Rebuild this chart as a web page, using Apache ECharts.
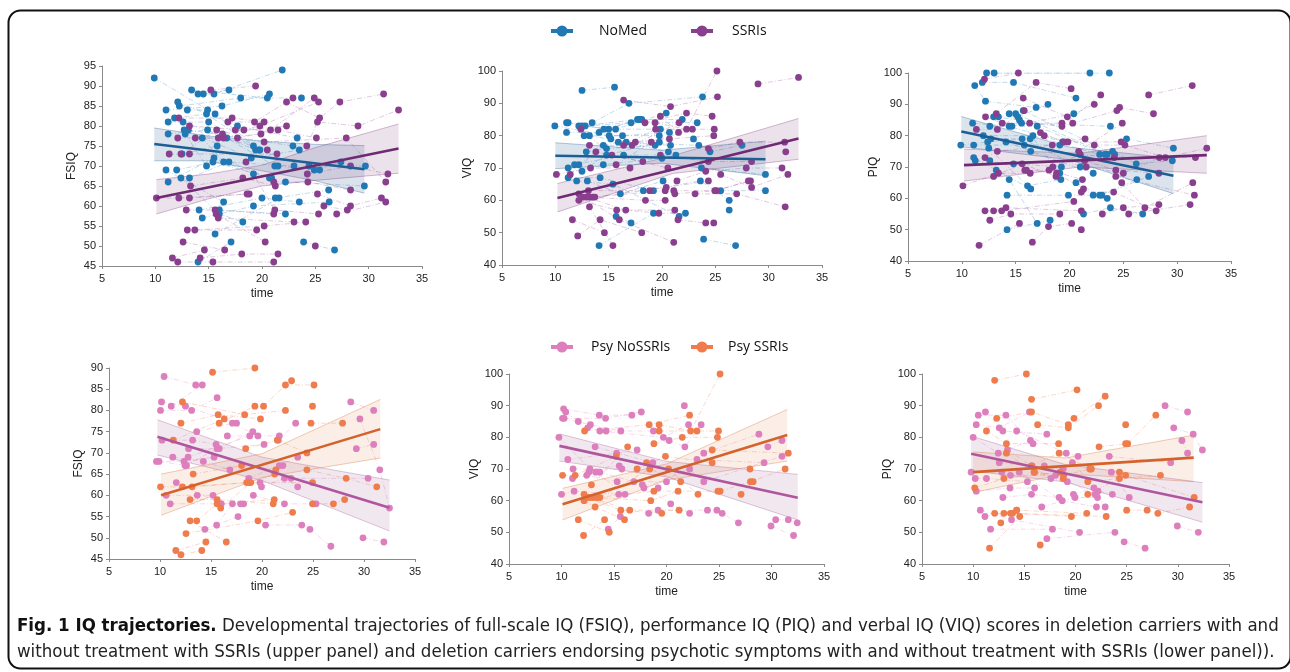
<!DOCTYPE html>
<html><head><meta charset="utf-8">
<script src="https://cdn.jsdelivr.net/npm/echarts@6/dist/echarts.min.js"></script>
<style>html,body{margin:0;padding:0;background:#fff}#c{width:1290px;height:672px}</style>
</head><body><div id="c"></div>
<script>
// ---------- tick labels / axes ----------
const timeTicks = [5, 10, 15, 20, 25, 30, 35];
const legendTop = ['NoMed', 'SSRIs'];
const legendBottom = ['Psy NoSSRIs', 'Psy SSRIs'];
const yNames = ['FSIQ', 'VIQ', 'PIQ', 'FSIQ', 'VIQ', 'PIQ'];
const yRanges = [[45, 95, 5], [40, 100, 10], [40, 100, 10], [45, 90, 5], [40, 100, 10], [40, 100, 10]];

// ---------- trajectories (each subject: [time, score] visits) ----------
const fsiqNoMed = [
[[9.9,92],[15.6,83],[19.8,74]],[[11.0,84],[16.25,85],[20.7,88]],[[11.2,81],[15.0,81],[19.7,74]],[[11.2,78],[14.9,79],[19.4,74]],
[[11.0,69],[16.4,61]],[[11.2,66],[15.5,72],[19.2,68]],[[12.0,69],[15.4,71],[20.9,67]],[[12.1,86],[17.7,80],[23.3,77]],
[[12.25,85],[18.0,87],[23.7,87]],[[11.8,82],[14.8,83],[19.2,75]],[[12.6,81],[16.7,77],[21.2,70]],[[12.7,79],[19.0,72],[23.5,74]],
[[13.0,84],[14.9,84]],[[12.8,78],[14.8,70]],[[13.1,79],[22.9,75]],[[12.5,73],[15.8,75]],[[12.4,67],[16.0,58],[18.2,56]],
[[13.2,67],[16.9,71],[20.7,67]],[[13.4,89],[20.5,87]],[[14.0,88],[15.5,88],[21.9,94]],[[14.5,88],[16.9,89]],
[[14.4,77],[16.4,71],[23.0,70]],[[14.1,59],[20.0,62],[23.5,61]],[[14.4,57],[19.2,60],[26.3,61]],[[14.0,46],[17.1,51]],
[[15.6,53],[21.6,62]],[[21.25,62],[26.25,64]],[[22.2,66],[29.6,65]],[[16.0,59],[22.2,58]],[[23.9,51],[26.8,49]],
[[24.4,70],[29.7,70]],[[24.9,69],[27.4,71]],[[21.5,70],[25.4,69]]
];
const fsiqSSRIs = [
[[10.1,62],[13.2,62],[18.8,63]],[[11.6,47],[14.6,49]],[[12.1,46],[15.4,46],[21.1,46]],[[12.1,77],[16.4,77],[20.5,74]],
[[12.2,82],[17.2,82],[20.2,81]],[[11.3,73],[13.2,73],[21.4,73]],[[12.2,62],[18.6,63]],[[12.4,73],[15.75,79]],[[12.6,51],[16.5,49]],
[[13.0,54],[19.5,54]],[[12.9,59],[15.6,59],[21.1,58]],[[13.2,80],[18.3,79],[22.3,80]],[[13.3,65],[18.2,67],[21.25,65]],
[[13.7,54],[20.2,55],[24.1,56]],[[13.75,77],[15.9,77],[19.9,78]],[[14.2,47],[18.1,48],[21.5,48]],[[15.2,89],[19.4,90]],
[[15.7,58],[20.3,51]],[[15.9,57],[23.0,56]],[[16.3,78],[19.8,80],[25.3,86]],[[16.8,81],[19.3,81],[22.9,87]],
[[17.5,79],[20.8,79],[24.9,87]],[[17.7,77],[21.5,79],[25.1,77]],[[18.5,71],[21.2,59],[25.3,58]],[[21.1,66],[24.3,66],[28.3,64]],
[[22.3,86],[25.4,82],[27.3,86],[31.4,88]],[[24.2,75],[25.2,81],[29.0,80],[32.8,84]],[[24.25,68],[28.3,70],[31.8,68]],
[[25.2,63],[28.3,60],[31.2,62]],[[25.0,50]],[[27.0,58],[31.6,61]],[[25.8,60],[28.0,59]],[[20.2,76],[27.9,77],[31.6,66]]
];
const viqNoMed = [
[[9.95,83],[15.05,80],[19.75,80]],[[11.05,84],[15.0,82],[19.85,82]],[[11.2,84],[14.55,82],[18.1,85]],[[11.05,81],[14.1,81],[17.7,85]],
[[11.2,70],[14.5,71],[20.0,73]],[[11.2,67],[14.2,67],[19.2,63]],[[12.0,66],[15.4,65],[21.6,55]],[[11.8,71],[16.4,74],[21.3,74]],
[[12.2,71],[15.2,79],[20.6,75]],[[12.2,83],[17.9,85],[21.9,85]],[[12.5,83],[15.65,82],[20.4,87]],[[12.8,83],[17.1,84],[23.3,84]],
[[12.5,94],[15.55,95]],[[12.7,80],[16.3,80],[20.7,81]],[[13.2,80],[16.65,78],[23.45,77]],[[12.9,75],[14.8,76],[19.35,77]],
[[12.5,69],[14.8,74],[19.75,78]],[[13.0,66],[16.1,62],[20.1,66]],[[13.45,84],[16.9,90],[23.8,92]],[[14.5,77],[15.9,78],[20.8,77]],
[[14.1,46],[19.2,56],[22.2,56]],[[15.7,55],[17.1,53]],[[18.25,63],[23.6,66],[26.3,60]],[[22.95,79],[24.5,75],[27.5,77]],
[[23.7,70],[29.7,68]],[[25.5,63],[29.7,63]],[[23.9,48],[26.9,46]],[[26.3,57]]
];
const viqSSRIs = [
[[10.1,68],[13.3,70],[17.0,70]],[[11.4,68],[13.8,75],[18.2,72]],[[11.6,54],[14.6,50]],[[12.1,49],[14.2,54],[18.1,50]],
[[12.2,62],[13.1,63],[18.85,63]],[[12.2,60],[15.75,57],[21.2,57]],[[12.4,82],[15.3,74],[20.55,70]],[[12.6,61],[16.0,54],[21.1,47]],
[[12.9,61],[16.6,57],[19.7,56]],[[13.2,61],[18.45,60],[20.3,60]],[[13.5,61],[20.3,63]],[[13.7,61],[20.4,64],[24.35,66]],
[[13.2,58],[15.4,46]],[[13.2,77],[17.2,77],[21.6,84]],[[15.7,71],[19.0,78],[22.85,82]],[[16.4,91],[20.8,89],[25.2,92]],
[[16.4,77],[19.4,82],[24.9,82]],[[17.5,78],[20.7,79],[24.85,80]],[[18.4,84],[22.3,87],[24.7,86]],[[19.35,84],[22.3,82],[25.15,100]],
[[19.85,86],[21.55,81]],[[19.85,74],[24.35,72],[28.4,72]],[[21.1,63],[24.95,63],[28.3,66]],[[21.2,62],[25.1,63],[28.1,66]],
[[21.4,66],[24.1,69],[27.9,70],[31.25,70]],[[21.5,54],[24.1,53]],[[23.1,62],[27.0,62],[31.55,58]],[[24.35,76],[27.3,78],[31.5,78]],
[[24.85,53]],[[25.5,68],[28.4,64],[31.8,68]],[[29.0,96],[32.8,98]],[[31.6,75]]
];
const piqNoMed = [
[[9.9,77],[12.4,78],[16.35,79]],[[11.0,84],[14.4,83],[19.35,78]],[[11.1,77],[15.8,77],[19.1,77]],[[11.2,96],[12.2,91],[16.9,89]],
[[11.1,73],[13.2,69],[16.4,63]],[[11.25,72],[14.8,71],[19.25,70]],[[11.9,97],[14.8,97],[20.6,92]],[[12.3,100],[21.9,100]],
[[13.0,100],[23.7,100]],[[12.0,80],[16.6,80],[22.8,74]],[[12.5,76],[16.1,64],[19.2,66]],[[12.6,72],[14.4,66],[17.0,52]],
[[12.6,83],[15.55,84],[23.8,83]],[[12.95,86],[15.35,85],[19.1,68]],[[12.7,79],[15.6,79],[21.0,70]],[[13.4,86],[15.2,86],[18.0,90]],
[[14.1,78],[16.4,75],[22.2,68]],[[14.2,61],[19.9,61],[22.2,61]],[[14.4,87],[17.0,83],[23.3,74]],[[14.65,83],[20.4,87]],
[[15.0,87],[23.5,74]],[[15.7,88],[24.2,74]],[[14.2,50],[18.2,53]],[[20.6,65],[22.8,61],[26.25,66]],[[21.3,55],[23.8,57],[26.8,55]],
[[23.0,61],[27.35,67]],[[24.0,75],[26.2,71],[29.55,72]],[[25.3,79],[29.65,76]],[[23.5,60]]
];
const piqSSRIs = [
[[10.1,64],[13.4,68],[16.35,68]],[[11.35,82],[13.3,82],[15.8,88]],[[12.1,98],[15.25,100]],[[12.2,86],[13.75,84],[19.3,84]],
[[12.15,73],[13.3,75],[18.4,77]],[[12.15,56],[13.7,56],[20.4,59]],[[12.6,53],[14.55,55],[19.1,55]],[[12.95,56],[14.1,57],[21.1,56]],
[[12.95,67],[15.6,71],[18.75,67]],[[13.2,87],[16.9,97],[20.15,95]],[[11.6,45],[15.35,52]],[[15.7,92],[19.8,86],[22.3,90]],
[[15.85,69],[18.1,69],[21.2,66]],[[16.0,69],[18.8,68],[21.3,63]],[[16.3,84],[19.3,83],[22.9,93]],[[16.55,46],[18.05,51],[20.2,52]],
[[17.3,81],[19.45,78],[21.45,79]],[[17.65,80],[19.85,78],[24.8,78]],[[18.45,70],[21.0,74],[24.15,73]],[[20.3,84],[24.4,88]],
[[20.85,75],[24.9,84]],[[27.35,93],[31.4,96]],[[21.1,50]],[[21.1,62],[24.1,62],[28.05,56]],[[21.4,72],[24.3,69],[28.3,68]],
[[21.55,70],[25.0,68],[28.35,73],[31.7,73]],[[22.3,77],[25.15,77],[28.9,73],[32.75,76]],[[23.05,55],[25.0,57],[28.3,58]],
[[24.65,89],[27.8,87]],[[24.85,65],[27.0,57],[31.45,65]],[[25.5,55],[31.2,58]],[[24.3,67],[31.6,61]]
];
const fsiqPsyNo = [
[[9.65,68],[12.35,68],[15.3,69]],[[9.9,68],[12.6,67]],[[10.05,80],[13.1,80],[15.6,83]],[[10.15,82],[12.5,81],[17.5,77]],
[[10.2,73],[13.2,73],[15.5,72]],[[10.4,88],[13.5,86]],[[10.6,60],[13.65,60],[15.2,60]],[[11.0,58],[15.95,58],[18.2,58]],
[[11.1,81],[14.15,86]],[[11.25,69],[14.25,68],[16.85,66]],[[11.6,63],[16.0,58],[17.9,58]],[[12.45,67],[15.6,71],[20.2,72]],
[[12.8,71],[15.8,71],[19.1,75]],[[12.75,69],[18.8,74]],[[16.6,74],[21.7,74]],[[13.6,75],[17.1,77],[19.6,74]],[[14.4,52],[17.65,55]],
[[15.55,53],[17.1,58]],[[18.7,64],[21.7,67],[23.5,69]],[[19.15,60],[22.2,58],[25.3,58]],[[19.8,63],[22.05,67]],
[[19.95,62],[22.2,64],[23.5,62]],[[20.35,53],[23.9,53]],[[21.6,73],[23.3,77]],[[24.7,52],[26.75,48]],[[22.85,64],[30.4,64]],
[[28.7,82],[30.95,80]],[[29.25,71],[30.95,72]],[[29.6,78],[31.55,66],[32.5,57]],[[29.9,50],[31.95,49]]
];
const fsiqPsySSRIs = [
[[10.05,62],[13.15,62],[18.5,63]],[[11.3,73],[16.3,78]],[[11.55,47],[14.5,49]],[[12.05,46],[14.1,47]],[[12.05,77],[15.7,79],[19.85,78]],
[[12.2,82],[18.3,79],[22.3,80]],[[12.2,62],[18.75,63],[21.25,65]],[[12.55,51],[19.6,54],[23.0,56]],[[12.95,54],[16.5,49]],
[[12.95,59],[15.6,59],[21.1,58]],[[13.25,65],[18.0,67],[21.35,66]],[[13.6,54],[15.6,58],[21.2,59]],[[15.15,89],[19.3,90]],
[[15.8,77],[19.3,81]],[[15.95,57],[18.9,63],[24.95,63]],[[18.4,71],[21.5,73],[24.4,70]],[[20.15,81],[22.3,86],[25.1,86]],
[[22.9,87]],[[24.4,66],[28.25,64],[31.25,62]],[[24.8,77],[27.9,77]],[[24.95,81]],[[24.95,58],[27.0,58],[28.1,59]]
];
const viqPsyNo = [
[[9.75,80],[12.7,70],[15.5,71]],[[10.0,62],[11.2,63],[15.45,62]],[[10.2,89],[13.6,87],[16.7,87]],[[10.1,86],[12.75,84],[15.65,82]],
[[10.25,86],[14.2,86],[17.6,88]],[[10.4,88],[11.6,85]],[[10.6,73],[15.25,75],[17.2,76]],[[11.05,67],[12.4,68],[15.3,66]],
[[11.1,70],[15.75,70]],[[12.5,83],[14.25,82],[18.75,82]],[[12.6,69],[13.25,69],[16.05,62]],[[13.2,77],[18.7,72]],
[[13.65,69],[16.9,66],[20.0,66]],[[13.65,82],[19.7,80],[22.1,84]],[[14.45,51],[15.6,55]],[[17.7,65],[20.4,59],[22.2,56]],
[[17.85,64],[22.2,70],[23.55,66],[31.0,74]],[[18.3,56],[19.2,57],[23.9,57]],[[19.2,64]],[[20.25,79],[21.75,77],[23.3,84]],[[21.7,90]],
[[22.9,73],[29.3,72]],[[23.55,75],[28.8,81]],[[24.8,57],[25.3,56],[26.85,53]],[[29.65,77],[31.0,79]],[[29.95,52],[32.1,49]],
[[30.4,54],[31.6,54],[32.45,53]]
];
const viqPsySSRIs = [
[[10.1,68],[11.3,68],[15.2,74]],[[11.6,54],[14.55,50]],[[12.1,49],[14.1,54]],[[12.15,62],[12.85,65],[16.3,77]],
[[12.2,82],[18.35,84],[22.2,87]],[[12.15,60],[13.2,58],[16.0,54]],[[12.4,61],[15.65,57],[19.55,56]],[[12.7,61],[16.5,57],[21.2,57]],
[[13.0,61],[18.5,60],[21.1,63]],[[13.35,61],[18.8,63],[24.9,63]],[[13.65,61],[18.4,70],[21.35,66]],[[17.2,70],[19.9,74],[24.35,72]],
[[18.1,72],[20.2,70],[23.0,62]],[[18.8,78],[21.5,80],[24.85,80]],[[19.3,84],[22.3,82],[25.1,100]],[[19.3,82],[22.9,82],[24.95,82]],
[[24.35,76],[31.6,75]],[[25.1,63],[28.0,66],[31.3,70]],[[27.1,62],[28.25,66]],[[27.95,70]]
];
const piqPsyNo = [
[[9.8,69],[12.8,69],[16.95,71]],[[10.0,80],[12.45,75],[15.6,79]],[[10.2,67],[11.3,67],[15.3,66]],[[10.3,63],[13.6,64],[16.0,64]],
[[10.3,84],[12.55,83],[15.5,88]],[[10.5,87],[13.2,87],[15.85,78]],[[10.7,57],[13.75,54],[20.4,50]],[[11.15,55],[14.25,57]],
[[11.2,88],[12.9,82],[17.2,81]],[[11.7,51],[17.75,51]],[[12.55,72],[15.75,71],[18.8,70]],[[12.9,61],[15.7,62],[18.4,61]],
[[13.35,76],[17.6,67],[19.2,66]],[[13.65,68],[18.05,68],[21.9,62]],[[14.25,82],[19.1,75],[20.25,74]],[[14.5,69],[18.7,60],[22.05,58]],
[[16.7,58],[19.95,61],[22.15,61]],[[17.2,48],[23.85,50]],[[19.7,72],[22.2,63],[23.6,62]],[[19.8,62],[21.8,64],[22.9,58]],
[[23.3,74],[29.3,72]],[[23.5,69],[25.25,61]],[[24.75,47],[26.8,45]],[[28.75,90],[30.95,88]],[[29.6,83],[31.5,81],[32.4,76]],
[[29.95,52],[32.0,50]],[[30.4,79],[30.95,75]]
];
const piqPsySSRIs = [
[[10.15,64],[13.0,67],[18.5,69]],[[11.3,82],[13.25,78],[18.35,78]],[[12.1,98],[15.2,100]],[[12.3,86],[15.7,88],[19.3,84]],
[[12.1,56],[13.65,56],[19.6,55]],[[12.7,53]],[[11.6,45],[14.55,55]],[[13.0,56],[14.25,57],[21.1,56]],[[13.25,75],[16.0,69],[18.8,67]],
[[13.85,56],[23.0,55]],[[15.7,92],[20.15,95]],[[15.7,71],[18.4,75],[21.55,70]],[[15.95,69],[18.85,68],[21.4,70]],
[[16.3,84],[19.3,83],[22.25,90]],[[16.55,46]],[[19.85,86],[22.9,93]],[[21.2,66],[24.3,67],[28.3,68]],[[21.2,62],[24.9,68],[31.6,61]],
[[22.3,77],[25.1,78],[27.85,87]],[[24.9,78]],[[24.3,69]],[[24.9,84]],[[25.0,57],[27.0,57],[28.05,56],[31.15,58]]
];

// ---------- fitted trajectories: [time, score] ----------
const fsiqNoMedFit = [[9.9,75.5],[29.6,69.2]];
const fsiqSSRIsFit = [[10.1,62],[32.8,74.4]];
const viqNoMedFit = [[10,73.8],[29.7,72.7]];
const viqSSRIsFit = [[10.2,60.7],[32.8,79.1]];
const piqNoMedFit = [[9.95,81.3],[29.65,67.2]];
const piqSSRIsFit = [[10.2,70.6],[32.75,73.8]];
const fsiqPsyNoFit = [[9.75,73.8],[32.5,57.1]];
const fsiqPsySSRIsFit = [[10.1,60],[31.6,75.6]];
const viqPsyNoFit = [[9.8,77.3],[32.5,60.9]];
const viqPsySSRIsFit = [[10.1,58.9],[31.5,80.7]];
const piqPsyNoFit = [[9.8,74.8],[32.4,59.5]];
const piqPsySSRIsFit = [[10,69],[31.55,73.6]];

// ---------- confidence bands: [time, lower, upper] ----------
const fsiqNoMedBand = [[9.9,71.3,79.5],[15,71.3,77.5],[20,68.8,76.2],[25,66.3,75.4],[29.6,63.2,75.1]];
const fsiqSSRIsBand = [[10.1,58,66.6],[15,61.8,68],[20,65,70.2],[25,66.4,74.6],[32.8,68.2,80.5]];
const viqNoMedBand = [[10,69.8,77.8],[20,71.5,75.5],[29.7,67.6,78.3]];
const viqSSRIsBand = [[10.2,56.4,65.2],[21,68.3,73.8],[32.8,72.7,85.3]];
const piqNoMedBand = [[9.95,76.5,86.1],[20,72.3,76.3],[29.65,61.5,72.8]];
const piqSSRIsBand = [[10.2,65.5,75.7],[21,70,74.4],[32.75,68,80]];
const fsiqPsyNoBand = [[9.75,69.5,77.8],[20,63.5,69],[32.5,51.6,63.6]];
const fsiqPsySSRIsBand = [[10.1,55.3,65],[20,64.2,69.8],[31.6,68.8,82.6]];
const viqPsyNoBand = [[9.8,72.5,81.1],[20,67.5,72.4],[32.5,53.9,68.3]];
const viqPsySSRIsBand = [[10.1,53.9,63.9],[20,66.5,71.6],[31.5,72.5,88.8]];
const piqPsyNoBand = [[9.8,69.4,80.4],[19,65.9,71.4],[32.4,53.2,65.7]];
const piqPsySSRIsBand = [[10,62.6,75.4],[19,68.5,73.5],[31.55,66,80.7]];

// ---------- styling ----------
const COL = {
  NoMed: {dot:'#2079b4', fit:'#1d5e94', traj:'rgba(32,121,180,0.55)', fill:'rgba(40,95,150,0.17)', edge:'rgba(40,95,150,0.35)'},
  SSRIs: {dot:'#893f8e', fit:'#6e2a72', traj:'rgba(137,63,142,0.55)', fill:'rgba(130,60,130,0.15)', edge:'rgba(130,60,130,0.35)'},
  PsyNo: {dot:'#de7fbd', fit:'#b0569e', traj:'rgba(222,127,189,0.6)', fill:'rgba(150,70,135,0.13)', edge:'rgba(150,70,135,0.3)'},
  PsySS: {dot:'#ef7c4d', fit:'#d4622d', traj:'rgba(239,124,77,0.6)', fill:'rgba(215,120,70,0.13)', edge:'rgba(215,120,70,0.38)'}
};
const grids = [
  {left:102, top:66, width:320, height:200},
  {left:502, top:71, width:320, height:194},
  {left:908, top:73, width:323, height:188},
  {left:109, top:368, width:306, height:191},
  {left:509, top:374, width:315, height:190},
  {left:922, top:374, width:307, height:190}
];
const panelGroups = [
  [['NoMed', fsiqNoMed, fsiqNoMedFit, fsiqNoMedBand], ['SSRIs', fsiqSSRIs, fsiqSSRIsFit, fsiqSSRIsBand]],
  [['NoMed', viqNoMed, viqNoMedFit, viqNoMedBand], ['SSRIs', viqSSRIs, viqSSRIsFit, viqSSRIsBand]],
  [['NoMed', piqNoMed, piqNoMedFit, piqNoMedBand], ['SSRIs', piqSSRIs, piqSSRIsFit, piqSSRIsBand]],
  [['PsyNo', fsiqPsyNo, fsiqPsyNoFit, fsiqPsyNoBand], ['PsySS', fsiqPsySSRIs, fsiqPsySSRIsFit, fsiqPsySSRIsBand]],
  [['PsyNo', viqPsyNo, viqPsyNoFit, viqPsyNoBand], ['PsySS', viqPsySSRIs, viqPsySSRIsFit, viqPsySSRIsBand]],
  [['PsyNo', piqPsyNo, piqPsyNoFit, piqPsyNoBand], ['PsySS', piqPsySSRIs, piqPsySSRIsFit, piqPsySSRIsBand]]
];

const FONT = 'Helvetica, Arial, "Liberation Sans", sans-serif';
const CAPFONT = '"Liberation Sans Narrow", "DejaVu Sans Condensed", sans-serif';
const xAxes = [], yAxes = [], series = [];
grids.forEach((g, i) => {
  xAxes.push({gridIndex:i, type:'value', min:timeTicks[0], max:timeTicks[timeTicks.length-1], interval:5,
    name:'time', nameLocation:'middle', nameGap:22, nameTextStyle:{fontSize:12, color:'#222', fontFamily:FONT},
    axisLine:{lineStyle:{color:'#8a8a8a', width:1}}, axisTick:{show:true, length:3, lineStyle:{color:'#8a8a8a'}},
    axisLabel:{fontSize:11, color:'#222', margin:7, fontFamily:FONT}, splitLine:{show:false}});
  yAxes.push({gridIndex:i, type:'value', min:yRanges[i][0], max:yRanges[i][1], interval:yRanges[i][2],
    name:yNames[i], nameLocation:'middle', nameRotate:90, nameGap:24, nameTextStyle:{fontSize:12, color:'#222', fontFamily:FONT},
    axisLine:{show:true, lineStyle:{color:'#8a8a8a', width:1}}, axisTick:{show:true, length:3, lineStyle:{color:'#8a8a8a'}},
    axisLabel:{fontSize:11, color:'#222', margin:6, fontFamily:FONT}, splitLine:{show:false}});
  panelGroups[i].forEach(([key, traj, fit, band]) => {
    const c = COL[key];
    series.push({type:'lines', coordinateSystem:'cartesian2d', xAxisIndex:i, yAxisIndex:i, polyline:true, silent:true, z:1,
      data: traj.filter(t => t.length > 1).map(t => ({coords:t})),
      lineStyle:{color:c.traj, width:1, type:[5,2,1,2]}});
    series.push({type:'custom', xAxisIndex:i, yAxisIndex:i, z:2, silent:true, data: band,
      encode:{x:0, y:[1,2]},
      renderItem: (params, api) => {
        if (params.dataIndex !== 0) return null;
        const up = band.map(b => api.coord([b[0], b[2]]));
        const lo = band.map(b => api.coord([b[0], b[1]]));
        const poly = up.concat(lo.slice().reverse());
        return {type:'group', children:[
          {type:'polygon', shape:{points:poly}, style:{fill:c.fill}},
          {type:'polyline', shape:{points:up}, style:{stroke:c.edge, lineWidth:1, fill:null}},
          {type:'polyline', shape:{points:lo}, style:{stroke:c.edge, lineWidth:1, fill:null}}
        ]};
      }});
    series.push({type:'scatter', xAxisIndex:i, yAxisIndex:i, z:3, symbolSize:6.8, silent:true,
      itemStyle:{color:c.dot, opacity:1}, data: traj.flat()});
    series.push({type:'line', xAxisIndex:i, yAxisIndex:i, z:4, symbol:'none', silent:true, data: fit,
      lineStyle:{color:c.fit, width:2.6}});
  });
});

function legendItem(x, y, color) {
  return [
    {type:'line', shape:{x1:x-11, y1:y, x2:x+11, y2:y}, style:{stroke:color, lineWidth:4}},
    {type:'circle', shape:{cx:x, cy:y, r:5.5}, style:{fill:color}},
  ];
}
const LF = '"Open Sans", sans-serif';
const graphics = [
  {type:'rect', shape:{x:8.5, y:10.5, width:1282, height:658, r:12}, style:{fill:null, stroke:'#111', lineWidth:2}, z:-1},
  ...legendItem(562, 31, COL.NoMed.dot), {type:'text', x:599, y:31, style:{text:legendTop[0], fontSize:14, fontFamily:LF, fill:'#111', verticalAlign:'middle'}},
  ...legendItem(702, 31, COL.SSRIs.dot), {type:'text', x:732, y:31, style:{text:legendTop[1], fontSize:14, fontFamily:LF, fill:'#111', verticalAlign:'middle'}},
  ...legendItem(562, 347, COL.PsyNo.dot), {type:'text', x:591, y:347, style:{text:legendBottom[0], fontSize:14, fontFamily:LF, fill:'#111', verticalAlign:'middle'}},
  ...legendItem(702, 347, COL.PsySS.dot), {type:'text', x:728, y:347, style:{text:legendBottom[1], fontSize:14, fontFamily:LF, fill:'#111', verticalAlign:'middle'}},
  {type:'text', x:17, y:626, style:{
    text:'{b|Fig. 1 IQ trajectories.} Developmental trajectories of full-scale IQ (FSIQ), performance IQ (PIQ) and verbal IQ (VIQ) scores in deletion carriers with and',
    rich:{b:{fontWeight:'bold', fontSize:18.5, fontFamily:CAPFONT, fill:'#111'}},
    fontSize:18.5, fontFamily:CAPFONT, fill:'#222', verticalAlign:'middle'}},
  {type:'text', x:17, y:652, style:{
    text:'without treatment with SSRIs (upper panel) and deletion carriers endorsing psychotic symptoms with and without treatment with SSRIs (lower panel)).',
    fontSize:18.5, fontFamily:CAPFONT, fill:'#222', verticalAlign:'middle'}}
];

const chart = echarts.init(document.getElementById('c'), null, {renderer:'canvas'});
chart.setOption({animation:false, backgroundColor:'#fff', grid:grids, xAxis:xAxes, yAxis:yAxes, series:series, graphic:graphics});
</script></body></html>
